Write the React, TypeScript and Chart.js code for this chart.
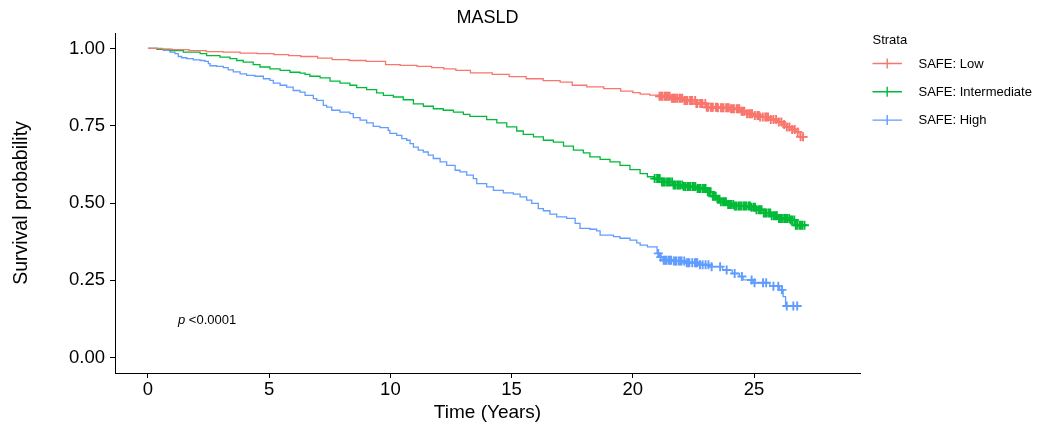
import React, { useEffect, useRef } from "react";
import { Chart, registerables } from "chart.js";

Chart.register(...registerables);

const TITLE = "MASLD";
const X_TITLE = "Time (Years)";
const Y_TITLE = "Survival probability";
const LEGEND_TITLE = "Strata";
const STRATA = ["SAFE: Low", "SAFE: Intermediate", "SAFE: High"];
const COLORS = ["#F8766D", "#00BA38", "#619CFF"];
const X_TICKS = [0, 5, 10, 15, 20, 25];
const Y_TICKS = [0, 0.25, 0.5, 0.75, 1];
const P_LABEL = "<0.0001";

const lowTime = [0, 0.6, 1.0, 1.7, 2.4, 3.1, 3.8, 4.5, 5.2, 5.8, 6.3, 7.0, 7.6, 8.3, 9.0, 9.8, 10.4, 11.1, 11.7, 12.2, 12.7, 13.3, 14.2, 14.9, 15.6, 16.3, 17.0, 17.5, 18.1, 18.8, 19.5, 20.0, 20.3, 20.7, 21.1, 21.6, 22.1, 22.6, 23.05, 23.5, 24.0, 24.4, 24.7, 25.0, 25.25, 25.6, 25.95, 26.2, 26.35, 26.55, 26.7, 26.9, 27.2];
const lowSurv = [1.0, 0.998, 0.996, 0.993, 0.990, 0.988, 0.985, 0.983, 0.980, 0.977, 0.974, 0.969, 0.964, 0.961, 0.958, 0.948, 0.945, 0.942, 0.938, 0.934, 0.929, 0.921, 0.916, 0.909, 0.902, 0.896, 0.891, 0.881, 0.876, 0.870, 0.862, 0.857, 0.852, 0.849, 0.845, 0.839, 0.832, 0.822, 0.810, 0.808, 0.805, 0.797, 0.789, 0.783, 0.778, 0.770, 0.762, 0.754, 0.746, 0.738, 0.730, 0.714, 0.714];
const lowCensor = [21.10, 21.16, 21.22, 21.31, 21.36, 21.40, 21.46, 21.52, 21.61, 21.66, 21.70, 21.77, 21.83, 21.92, 21.98, 22.04, 22.13, 22.19, 22.25, 22.36, 22.41, 22.45, 22.57, 22.62, 22.66, 22.78, 22.83, 22.87, 22.99, 23.05, 23.10, 23.21, 23.26, 23.30, 23.42, 23.47, 23.51, 23.63, 23.69, 23.74, 23.85, 23.90, 23.96, 24.05, 24.11, 24.17, 24.28, 24.33, 24.39, 24.48, 24.54, 24.60, 24.71, 24.80, 24.86, 24.92, 25.03, 25.14, 25.20, 25.25, 25.36, 25.46, 25.52, 25.58, 25.69, 25.80, 25.91, 26.02, 26.13, 26.24, 26.35, 26.46, 26.57, 26.68, 26.80, 26.92, 27.02];

const midTime = [0, 0.4, 0.91, 1.46, 2.15, 2.42, 2.97, 3.38, 3.66, 3.93, 4.34, 4.62, 5.03, 5.45, 5.86, 6.27, 6.48, 6.68, 7.1, 7.51, 7.92, 8.33, 8.61, 9.02, 9.43, 9.71, 10.12, 10.53, 10.95, 11.36, 11.77, 12.18, 12.6, 13.01, 13.28, 13.97, 14.39, 14.8, 15.21, 15.48, 15.9, 16.31, 16.72, 17.14, 17.55, 17.96, 18.23, 18.65, 19.06, 19.47, 19.88, 20.3, 20.6, 20.85, 21.2, 21.65, 22.1, 22.65, 23.05, 23.3, 23.45, 23.6, 23.9, 24.15, 24.85, 25.1, 25.4, 25.7, 25.95, 26.5, 26.7, 27.2];
const midSurv = [1.0, 0.997, 0.993, 0.988, 0.983, 0.977, 0.972, 0.967, 0.961, 0.956, 0.948, 0.940, 0.934, 0.929, 0.923, 0.920, 0.916, 0.910, 0.905, 0.894, 0.888, 0.881, 0.873, 0.867, 0.856, 0.848, 0.843, 0.834, 0.821, 0.813, 0.805, 0.800, 0.794, 0.787, 0.780, 0.770, 0.759, 0.746, 0.733, 0.722, 0.714, 0.703, 0.697, 0.684, 0.671, 0.662, 0.649, 0.641, 0.633, 0.622, 0.608, 0.595, 0.585, 0.579, 0.568, 0.558, 0.553, 0.547, 0.536, 0.522, 0.512, 0.504, 0.495, 0.490, 0.486, 0.478, 0.468, 0.459, 0.450, 0.445, 0.428, 0.428];
const midCensor = [20.90, 21.00, 21.06, 21.11, 21.20, 21.26, 21.32, 21.41, 21.47, 21.53, 21.62, 21.68, 21.74, 21.83, 21.89, 21.95, 22.04, 22.10, 22.16, 22.25, 22.31, 22.37, 22.46, 22.52, 22.58, 22.67, 22.73, 22.79, 22.88, 22.94, 23.00, 23.09, 23.15, 23.21, 23.30, 23.36, 23.42, 23.51, 23.57, 23.63, 23.72, 23.78, 23.84, 23.93, 23.99, 24.05, 24.14, 24.20, 24.26, 24.35, 24.41, 24.47, 24.56, 24.62, 24.68, 24.77, 24.83, 24.89, 24.98, 25.04, 25.10, 25.19, 25.25, 25.31, 25.40, 25.46, 25.52, 25.61, 25.67, 25.73, 25.82, 25.88, 25.94, 26.03, 26.09, 26.15, 26.24, 26.30, 26.36, 26.45, 26.51, 26.57, 26.66, 26.72, 26.78, 26.87, 26.93, 26.99, 27.08];

const highTime = [0, 0.36, 0.63, 0.91, 1.11, 1.25, 1.39, 1.6, 1.87, 2.15, 2.35, 2.49, 2.56, 2.83, 3.11, 3.31, 3.52, 3.8, 4.07, 4.41, 4.76, 5.03, 5.17, 5.45, 5.72, 5.99, 6.27, 6.48, 6.82, 6.96, 7.23, 7.37, 7.58, 7.92, 8.33, 8.47, 8.75, 9.02, 9.29, 9.57, 9.91, 9.98, 10.26, 10.47, 10.67, 10.81, 10.95, 11.15, 11.36, 11.56, 11.77, 12.05, 12.32, 12.67, 12.87, 13.15, 13.42, 13.56, 13.97, 14.25, 14.66, 15.07, 15.35, 15.62, 15.83, 16.1, 16.31, 16.58, 16.86, 17.27, 17.62, 17.82, 18.23, 18.51, 18.65, 19.2, 19.47, 19.88, 20.16, 20.3, 20.6, 21.0, 21.1, 21.25, 21.6, 22.2, 22.7, 23.2, 23.7, 24.1, 24.4, 24.55, 24.95, 25.65, 26.05, 26.2, 26.3, 26.9];
const highSurv = [1.0, 0.997, 0.994, 0.988, 0.983, 0.974, 0.970, 0.967, 0.963, 0.961, 0.958, 0.951, 0.944, 0.942, 0.938, 0.931, 0.924, 0.918, 0.913, 0.910, 0.902, 0.897, 0.888, 0.881, 0.875, 0.864, 0.859, 0.848, 0.838, 0.832, 0.816, 0.810, 0.800, 0.794, 0.789, 0.776, 0.768, 0.759, 0.748, 0.744, 0.735, 0.725, 0.719, 0.708, 0.703, 0.692, 0.681, 0.671, 0.665, 0.655, 0.644, 0.633, 0.622, 0.606, 0.601, 0.590, 0.579, 0.563, 0.552, 0.541, 0.533, 0.529, 0.520, 0.509, 0.499, 0.482, 0.475, 0.464, 0.455, 0.450, 0.434, 0.418, 0.415, 0.410, 0.396, 0.391, 0.386, 0.380, 0.371, 0.364, 0.358, 0.337, 0.325, 0.315, 0.312, 0.307, 0.300, 0.294, 0.283, 0.272, 0.262, 0.251, 0.242, 0.231, 0.219, 0.197, 0.167, 0.167];
const highCensor = [21.05, 21.15, 21.27, 21.33, 21.38, 21.47, 21.53, 21.58, 21.69, 21.75, 21.80, 21.90, 21.96, 22.01, 22.12, 22.22, 22.28, 22.33, 22.45, 22.56, 22.61, 22.66, 22.77, 22.88, 23.00, 23.12, 23.25, 23.60, 23.87, 24.20, 24.50, 24.90, 25.02, 25.37, 25.50, 25.80, 26.00, 26.15, 26.35, 26.62, 26.78];

const FONT = "'Liberation Sans', Arial, Helvetica, sans-serif";

function survAt(times: number[], surv: number[], t: number): number {
  let v = surv[0];
  for (let i = 0; i < times.length; i++) {
    if (times[i] <= t) v = surv[i];
    else break;
  }
  return v;
}

const curves = [
  { times: lowTime, surv: lowSurv, censor: lowCensor },
  { times: midTime, surv: midSurv, censor: midCensor },
  { times: highTime, surv: highSurv, censor: highCensor },
];

const overlayPlugin = {
  id: "overlay",
  afterDraw(chart: any) {
    const ctx = chart.ctx as CanvasRenderingContext2D;
    const area = chart.chartArea;
    const cx = (area.left + area.right) / 2;
    ctx.save();
    ctx.fillStyle = "#000";
    ctx.textBaseline = "alphabetic";
    ctx.font = `18px ${FONT}`;
    ctx.textAlign = "center";
    ctx.fillText(TITLE, cx, 22.5);
    ctx.font = `19px ${FONT}`;
    ctx.fillText(X_TITLE, cx, 417.5);
    ctx.save();
    ctx.translate(26.5, (area.top + area.bottom) / 2);
    ctx.rotate(-Math.PI / 2);
    ctx.font = `19.5px ${FONT}`;
    ctx.textAlign = "center";
    ctx.fillText(Y_TITLE, 0, 0);
    ctx.restore();
    ctx.textAlign = "left";
    ctx.font = `italic 13px ${FONT}`;
    ctx.fillText("p", 178, 324);
    const pw = ctx.measureText("p ").width;
    ctx.font = `13px ${FONT}`;
    ctx.fillText(P_LABEL, 178 + pw, 324);
    ctx.font = `13px ${FONT}`;
    ctx.fillText(LEGEND_TITLE, 872.5, 44.3);
    const rows = [63.5, 91.8, 120.1];
    STRATA.forEach((name, i) => {
      const y = rows[i];
      ctx.strokeStyle = COLORS[i];
      ctx.lineWidth = 1.4;
      ctx.beginPath();
      ctx.moveTo(872.5, y);
      ctx.lineTo(902, y);
      ctx.moveTo(887.2, y - 5);
      ctx.lineTo(887.2, y + 5);
      ctx.stroke();
      ctx.fillStyle = "#000";
      ctx.fillText(name, 918.5, y + 4.3);
    });
    ctx.restore();
  },
};

export default function App() {
  const ref = useRef<HTMLCanvasElement | null>(null);
  useEffect(() => {
    if (!ref.current) return;
    const datasets: any[] = [];
    curves.forEach((c, i) => {
      datasets.push({
        label: STRATA[i],
        data: c.times.map((t, k) => ({ x: t, y: c.surv[k] })),
        borderColor: COLORS[i],
        backgroundColor: COLORS[i],
        borderWidth: 1.3,
        stepped: "before",
        pointRadius: 0,
        fill: false,
      });
    });
    curves.forEach((c, i) => {
      datasets.push({
        label: STRATA[i] + " censor",
        data: c.censor.map((t) => ({ x: t, y: survAt(c.times, c.surv, t) })),
        borderColor: COLORS[i],
        backgroundColor: COLORS[i],
        showLine: false,
        pointStyle: "cross",
        pointRadius: 4.5,
        pointBorderWidth: 1.9,
        pointBorderColor: COLORS[i],
      });
    });
    const axisCommon = {
      type: "linear",
      grid: { drawOnChartArea: false, drawTicks: true, tickLength: 5, color: "#000", lineWidth: 1 },
      border: { display: true, color: "#000", width: 1 },
    };
    const chart = new Chart(ref.current, {
      type: "line",
      data: { datasets },
      options: {
        responsive: false,
        animation: false,
        layout: { padding: { top: 33, right: 180, left: 0, bottom: 0 } },
        plugins: {
          legend: { display: false },
          tooltip: { enabled: false },
          title: { display: false },
        },
        scales: {
          x: {
            ...axisCommon,
            min: -1.36,
            max: 29.37,
            afterBuildTicks: (s: any) => {
              s.ticks = X_TICKS.map((v) => ({ value: v }));
            },
            afterFit: (s: any) => {
              s.height = 54;
            },
            ticks: {
              color: "#000",
              font: { family: FONT, size: 18.5 },
              padding: 1,
              maxRotation: 0,
              autoSkip: false,
              callback: (v: any) => String(v),
            },
          },
          y: {
            ...axisCommon,
            min: -0.05,
            max: 1.05,
            afterBuildTicks: (s: any) => {
              s.ticks = Y_TICKS.map((v) => ({ value: v }));
            },
            afterFit: (s: any) => {
              s.width = 115;
            },
            ticks: {
              color: "#000",
              font: { family: FONT, size: 18.5 },
              padding: 5,
              autoSkip: false,
              callback: (v: any) => Number(v).toFixed(2),
            },
          },
        },
      } as any,
      plugins: [overlayPlugin],
    } as any);
    return () => chart.destroy();
  }, []);
  return (
    <div style={{ position: "absolute", left: 0, top: 0, width: 1040, height: 427, background: "#fff" }}>
      <canvas ref={ref} width={1040} height={427} style={{ display: "block" }} />
    </div>
  );
}
